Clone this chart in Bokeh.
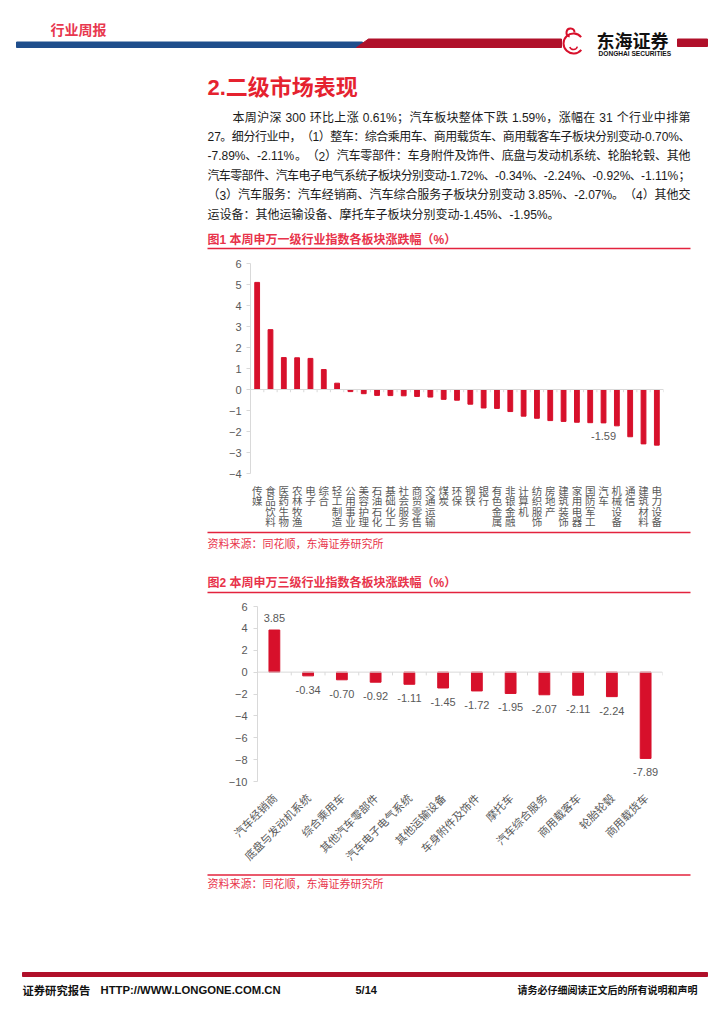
import math
from bokeh.plotting import figure
from bokeh.models import Range1d, FactorRange, ColumnDataSource, Span, FixedTicker
from bokeh.layouts import column
from bokeh.embed import file_html
from bokeh.resources import INLINE
from bokeh.core.properties import value

# ---------------- data ----------------
sw1_names = ["传媒", "食品饮料", "医药生物", "农林牧渔", "电子", "综合", "轻工制造", "公用事业",
             "美容护理", "石油石化", "基础化工", "社会服务", "商贸零售", "交通运输", "煤炭", "环保",
             "钢铁", "银行", "有色金属", "非银金融", "计算机", "纺织服饰", "房地产", "建筑装饰",
             "家用电器", "国防军工", "汽车", "机械设备", "通信", "建筑材料", "电力设备"]
sw1_values = [5.10, 2.85, 1.52, 1.51, 1.48, 0.95, 0.30, -0.10, -0.20, -0.28, -0.29, -0.30,
              -0.33, -0.36, -0.47, -0.51, -0.70, -0.88, -0.90, -1.05, -1.27, -1.37, -1.48,
              -1.52, -1.56, -1.58, -1.59, -1.73, -2.25, -2.59, -2.65]
sw1_labelled = ["汽车"]
sw1_ticks = [-4, -3, -2, -1, 0, 1, 2, 3, 4, 5, 6]

sw3_names = ["汽车经销商", "底盘与发动机系统", "综合乘用车", "其他汽车零部件", "汽车电子电气系统",
             "其他运输设备", "车身附件及饰件", "摩托车", "汽车综合服务", "商用载客车", "轮胎轮毂",
             "商用载货车"]
sw3_values = [3.85, -0.34, -0.70, -0.92, -1.11, -1.45, -1.72, -1.95, -2.07, -2.11, -2.24, -7.89]
sw3_ticks = [-10, -8, -6, -4, -2, 0, 2, 4, 6]

header_tag = "行业周报"
section_title = "2.二级市场表现"
paragraph = [
    "本周沪深 300 环比上涨 0.61%；汽车板块整体下跌 1.59%，涨幅在 31 个行业中排第",
    "27。细分行业中，（1）整车：综合乘用车、商用载货车、商用载客车子板块分别变动-0.70%、",
    "-7.89%、-2.11%。（2）汽车零部件：车身附件及饰件、底盘与发动机系统、轮胎轮毂、其他",
    "汽车零部件、汽车电子电气系统子板块分别变动-1.72%、-0.34%、-2.24%、-0.92%、-1.11%；",
    "（3）汽车服务：汽车经销商、汽车综合服务子板块分别变动 3.85%、-2.07%。（4）其他交",
    "运设备：其他运输设备、摩托车子板块分别变动-1.45%、-1.95%。",
]
fig1_title = "图1  本周申万一级行业指数各板块涨跌幅（%）"
fig2_title = "图2  本周申万三级行业指数各板块涨跌幅（%）"
source_note = "资料来源：同花顺，东海证券研究所"
footer_left = "证券研究报告"
footer_url = "HTTP://WWW.LONGONE.COM.CN"
footer_page = "5/14"
footer_right = "请务必仔细阅读正文后的所有说明和声明"

# ---------------- style ----------------
FONT = "Liberation Sans, Noto Sans CJK SC"
CJK = "Noto Sans CJK SC"
BAR = "#D7102B"
RED_TXT = "#E8334A"
RED_LINE = "#E3233D"
DARK_RED = "#B0102A"
BLUE = "#1F4E8C"
AX = "#D9D9D9"
LAB = "#595959"
W = 708


def page(y_top, y_bot):
    p = figure(width=W, height=y_bot - y_top, x_range=Range1d(0, W), y_range=Range1d(y_bot, y_top),
               x_axis_location=None, y_axis_location=None, toolbar_location=None,
               output_backend="svg", min_border=0)
    p.grid.visible = False
    p.outline_line_color = None
    p.frame_align = False
    return p


def txt(p, x, y, s, size, color="#000000", bold=False, align="left", font=FONT):
    p.text(x=[x], y=[y], text=[s], text_font=value(font), text_font_size=f"{size}px",
           text_font_style="bold" if bold else "normal", text_color=color,
           text_align=align, text_baseline="middle")


ASCII_W = {".": 0.278, "%": 0.889, "-": 0.333, ",": 0.278, ":": 0.278, " ": 0.278}


def tokenize(line):
    toks, cur = [], ""
    for ch in line:
        if ord(ch) < 128 and ch != " ":
            cur += ch
        else:
            if cur:
                toks.append(cur)
                cur = ""
            toks.append(ch)
    if cur:
        toks.append(cur)
    return toks


def tok_w(t, fs):
    w = 0.0
    for ch in t:
        w += ASCII_W.get(ch, 0.556) if ord(ch) < 128 else 1.0
    return w * fs


def justified(p, line, x0, x1, y, fs, justify=True):
    toks = tokenize(line)
    widths = [tok_w(t, fs) for t in toks]
    gap = 0.0
    if justify and len(toks) > 1:
        gap = (x1 - x0 - sum(widths)) / (len(toks) - 1)
    xs, ys, ts = [], [], []
    x = x0
    for t, w in zip(toks, widths):
        if t != " ":
            xs.append(x); ys.append(y); ts.append(t)
        x += w + gap
    p.text(x=xs, y=ys, text=ts, text_font=value(FONT), text_font_size=f"{fs}px",
           text_color="#1a1a1a", text_align="left", text_baseline="middle")


# ---------------- A: header + text ----------------
pa = page(0, 252)
txt(pa, 50, 28, header_tag, 14, color="#E8384F", bold=True, font=CJK)
pa.quad(left=[16], right=[362], top=[41.5], bottom=[47], color=BLUE)
pa.patch(x=[356, 368, 561, 561], y=[47, 38.5, 38.5, 47], color=DARK_RED)
pa.quad(left=[677], right=[707], top=[38.5], bottom=[46], color=DARK_RED)
pa.arc(x=[573], y=[43], radius=10, start_angle=0.7, end_angle=5.6, line_color=BAR, line_width=2)
pa.arc(x=[570], y=[32], radius=4, start_angle=0.0, end_angle=4.5, line_color=BAR, line_width=2)
pa.arc(x=[573], y=[45], radius=4, start_angle=3.5, end_angle=6.0, line_color=BAR, line_width=1.5)
txt(pa, 596, 39, "东海证券", 18, color="#111111", bold=True, font=CJK)
txt(pa, 598, 52.5, "DONGHAI SECURITIES", 6.6, color="#111111", bold=True)
txt(pa, 207, 87, section_title, 22, color="#E5222F", bold=True)
ly = 117
for i, line in enumerate(paragraph):
    x0 = 232 if i == 0 else 207
    justified(pa, line, x0, 690, ly + i * 19.4, 12, justify=(i < len(paragraph) - 1))
txt(pa, 207, 239, fig1_title, 12, color=RED_TXT, bold=True)
pa.segment(x0=[207], y0=[248], x1=[690], y1=[248], line_color=RED_LINE, line_width=1.5)

# ---------------- B: chart 1 ----------------
Y1_LOW = 6 - (530 - 263) / 21.0   # frame extends down to hold the stacked category labels
p1 = figure(width=W, height=278, x_range=FactorRange(factors=sw1_names), y_range=Range1d(Y1_LOW, 6),
            x_axis_location=None, toolbar_location=None, output_backend="svg",
            min_border_left=250, min_border_right=45, min_border_top=11, min_border_bottom=0)
p1.frame_align = False
p1.outline_line_color = None
p1.grid.visible = False
src1 = ColumnDataSource(dict(name=sw1_names, val=sw1_values))
p1.vbar(x="name", top="val", bottom=0, width=0.36, color=BAR, source=src1)
p1.add_layout(Span(location=0, dimension="width", line_color=AX, line_width=1))
nb1 = len(sw1_names) + 1
p1.segment(x0=list(range(nb1)), y0=[0] * nb1, x1=list(range(nb1)), y1=[-0.13] * nb1,
           line_color=AX, line_width=1)
lab1 = [(n, v) for n, v in zip(sw1_names, sw1_values) if n in sw1_labelled]
p1.text(x=[n for n, v in lab1], y=[v for n, v in lab1], text=[f"{v:.2f}" for n, v in lab1],
        y_offset=13, text_align="center", text_baseline="middle", text_font=value(FONT),
        text_font_size="11px", text_color=LAB)
# stacked (vertical) category labels below the axis bottom
cx, cy, ct, co = [], [], [], []
for n in sw1_names:
    for k, ch in enumerate(n):
        cx.append(n); cy.append(sw1_ticks[0]); ct.append(ch); co.append(9 + k * 10.6)
p1.text(x=cx, y=cy, text=ct, y_offset=co, text_align="center", text_baseline="top",
        text_font=value(CJK), text_font_size="10.5px", text_color=LAB)
ya = p1.yaxis[0]
ya.bounds = (sw1_ticks[0], sw1_ticks[-1])
ya.ticker = FixedTicker(ticks=sw1_ticks)
ya.axis_line_color = AX
ya.major_tick_line_color = AX
ya.major_tick_out = 4
ya.major_tick_in = 0
ya.minor_tick_line_color = None
ya.major_label_text_font = FONT
ya.major_label_text_font_size = "11px"
ya.major_label_text_color = LAB
ya.major_label_standoff = 5

# ---------------- C: between charts ----------------
pc = page(530, 600)
pc.segment(x0=[207], y0=[532], x1=[690], y1=[532], line_color=RED_LINE, line_width=1.5)
txt(pc, 207, 543, source_note, 11, color=RED_TXT)
txt(pc, 207, 582, fig2_title, 12, color=RED_TXT, bold=True)
pc.segment(x0=[207], y0=[592], x1=[690], y1=[592], line_color=RED_LINE, line_width=1.5)

# ---------------- D: chart 2 ----------------
p2 = figure(width=W, height=272, x_range=FactorRange(factors=sw3_names), y_range=Range1d(-10, 6),
            toolbar_location=None, output_backend="svg",
            min_border_left=257, min_border_right=46, min_border_top=6, min_border_bottom=88)
p2.frame_align = False
p2.outline_line_color = None
p2.grid.visible = False
src2 = ColumnDataSource(dict(name=sw3_names, val=sw3_values,
                             lab=[f"{v:.2f}" for v in sw3_values],
                             off=[-12 if v >= 0 else 14 for v in sw3_values]))
p2.vbar(x="name", top="val", bottom=0, width=0.32, color=BAR, source=src2)
p2.add_layout(Span(location=0, dimension="width", line_color=AX, line_width=1))
nb2 = len(sw3_names) + 1
p2.segment(x0=list(range(nb2)), y0=[0] * nb2, x1=list(range(nb2)), y1=[-0.3] * nb2,
           line_color=AX, line_width=1)
p2.text(x="name", y="val", text="lab", y_offset="off", source=src2, text_align="center",
        text_baseline="middle", text_font=value(FONT), text_font_size="11px", text_color=LAB)
ya2 = p2.yaxis[0]
ya2.ticker = FixedTicker(ticks=sw3_ticks)
ya2.axis_line_color = AX
ya2.major_tick_line_color = AX
ya2.major_tick_out = 4
ya2.major_tick_in = 0
ya2.minor_tick_line_color = None
ya2.major_label_text_font = FONT
ya2.major_label_text_font_size = "11px"
ya2.major_label_text_color = LAB
ya2.major_label_standoff = 6
xa2 = p2.xaxis[0]
xa2.axis_line_color = None
xa2.major_tick_line_color = None
xa2.major_label_orientation = math.pi / 4
xa2.major_label_standoff = 8
xa2.major_label_text_font = CJK
xa2.major_label_text_font_size = "11px"
xa2.major_label_text_color = LAB

# ---------------- E: bottom ----------------
pe = page(872, 1008)
pe.segment(x0=[207], y0=[874.5], x1=[690], y1=[874.5], line_color=RED_LINE, line_width=1.5)
txt(pe, 207, 883, source_note, 11, color=RED_TXT)
pe.quad(left=[22], right=[707], top=[972], bottom=[976], color=DARK_RED)
txt(pe, 22, 989, footer_left, 11.3, color="#111111", bold=True, font=CJK)
txt(pe, 100, 989, footer_url, 11.3, color="#111111", bold=True)
txt(pe, 355, 989, footer_page, 11, color="#111111", bold=True)
txt(pe, 697, 989, footer_right, 10, color="#111111", bold=True, align="right", font=CJK)

layout = column(pa, p1, pc, p2, pe, spacing=0)
open("out.html", "w").write(file_html(layout, INLINE))
